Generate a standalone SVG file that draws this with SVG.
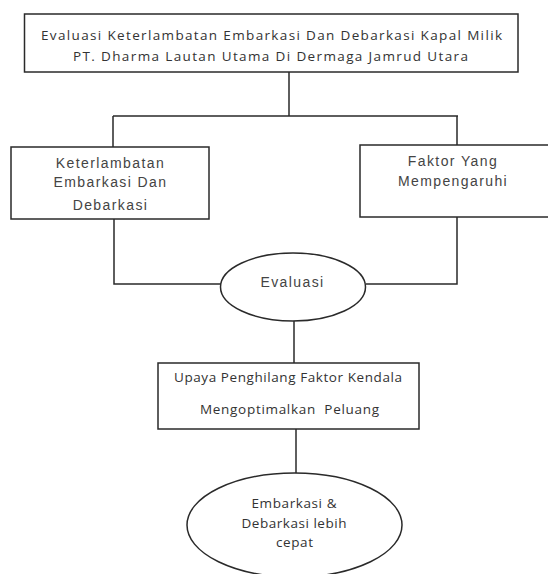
<svg xmlns="http://www.w3.org/2000/svg" width="548" height="574" viewBox="0 0 548 574">
<style>
.box{fill:#fff;stroke:#2a2a2a;stroke-width:1.5}
.ln{fill:none;stroke:#2a2a2a;stroke-width:1.5}
.c{font-family:"Open Sans","Noto Sans",sans-serif;font-size:13.5px;fill:#333;text-anchor:middle}
.a{font-family:"Liberation Sans",Arial,sans-serif;font-size:14px;fill:#444;text-anchor:middle;letter-spacing:1.4px}
</style>
<rect width="548" height="574" fill="#fff"/>
<g id="connectors">
<path class="ln" d="M289,72 V116 M113,116 H458 M113,116 V147 M457,116 V145"/>
<path class="ln" d="M114,219 V284 H221 M457,217 V284 H366"/>
<path class="ln" d="M294,321 V363"/>
<path class="ln" d="M296,429 V473"/>
</g>
<g id="node-title">
<rect class="box" x="24.5" y="14" width="493.5" height="58"/>
<text class="c" x="271.5" y="40" textLength="461" lengthAdjust="spacing">Evaluasi Keterlambatan Embarkasi Dan Debarkasi Kapal Milik</text>
<text class="c" x="270.5" y="61" textLength="395" lengthAdjust="spacing">PT. Dharma Lautan Utama Di Dermaga Jamrud Utara</text>
</g>
<g id="node-keterlambatan">
<rect class="box" x="11" y="147" width="198" height="72"/>
<text class="a" x="110.5" y="168">Keterlambatan</text>
<text class="a" x="110.5" y="187">Embarkasi Dan</text>
<text class="a" x="110.5" y="210">Debarkasi</text>
</g>
<g id="node-faktor">
<rect class="box" x="360" y="145" width="200" height="72"/>
<text class="a" x="453" y="166">Faktor Yang</text>
<text class="a" x="453" y="186">Mempengaruhi</text>
</g>
<g id="node-evaluasi">
<ellipse class="box" cx="293" cy="287" rx="72.5" ry="34"/>
<text class="a" x="292.5" y="287">Evaluasi</text>
</g>
<g id="node-upaya">
<rect class="box" x="158" y="363" width="261" height="66"/>
<text class="c" x="288" y="382" textLength="228" lengthAdjust="spacing">Upaya Penghilang Faktor Kendala</text>
<text class="c" x="289.5" y="414" textLength="179" lengthAdjust="spacing" xml:space="preserve">Mengoptimalkan  Peluang</text>
</g>
<g id="node-hasil">
<ellipse class="box" cx="294.5" cy="525" rx="107.5" ry="52"/>
<text class="c" x="294" y="508" textLength="85" lengthAdjust="spacing">Embarkasi &amp;</text>
<text class="c" x="294" y="527.5" textLength="105" lengthAdjust="spacing">Debarkasi lebih</text>
<text class="c" x="294.5" y="547" textLength="37" lengthAdjust="spacing">cepat</text>
</g>
</svg>
